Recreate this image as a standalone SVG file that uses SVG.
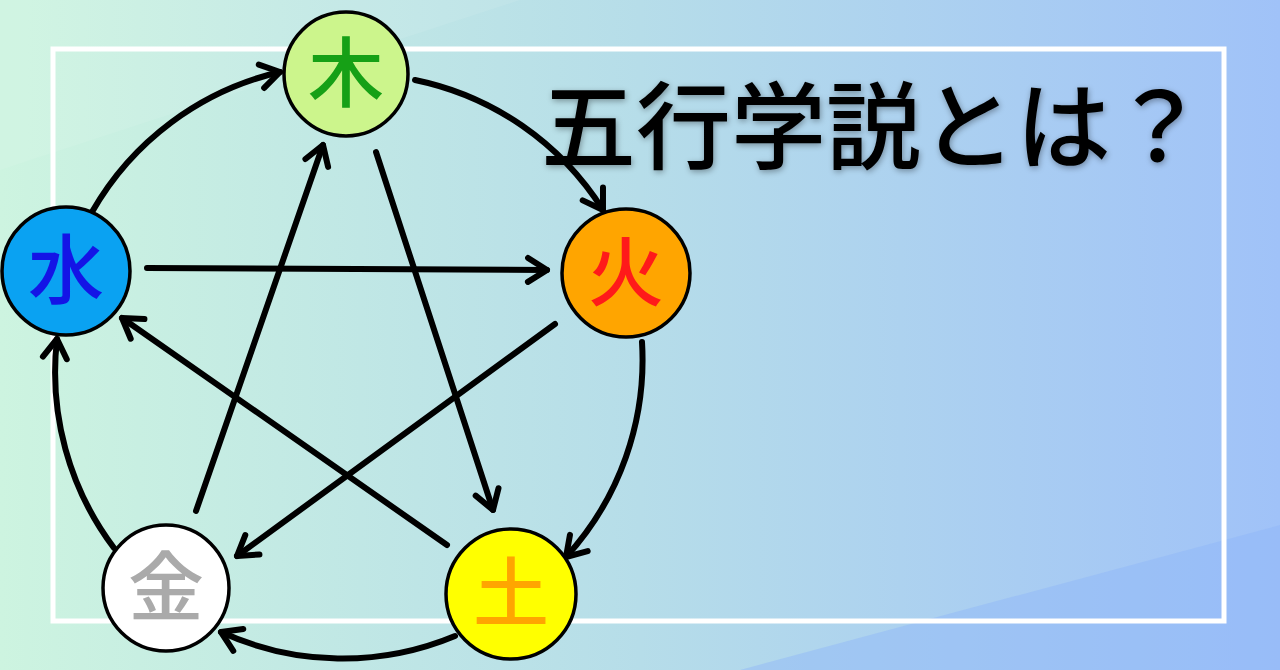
<svg xmlns="http://www.w3.org/2000/svg" width="1280" height="670" viewBox="0 0 1280 670">
  <defs>
    <linearGradient id="bg" x1="0" y1="0" x2="1" y2="0">
      <stop offset="0" stop-color="#cdf4e0"/>
      <stop offset="0.5" stop-color="#b6dde9"/>
      <stop offset="1" stop-color="#a0c2f8"/>
    </linearGradient>
    <marker id="arr" viewBox="-24 -16 30 32" markerWidth="30" markerHeight="32" refX="0" refY="0" orient="auto" markerUnits="userSpaceOnUse">
      <path d="M-19,-12 L0,0 L-19,12" fill="none" stroke="#000" stroke-width="6" stroke-linecap="round" stroke-linejoin="round"/>
    </marker>
    <filter id="glow" x="-10%" y="-20%" width="120%" height="140%">
      <feGaussianBlur in="SourceAlpha" stdDeviation="3"/>
      <feOffset dx="1" dy="2"/>
      <feComponentTransfer><feFuncA type="linear" slope="0.35"/></feComponentTransfer>
      <feMerge><feMergeNode/><feMergeNode in="SourceGraphic"/></feMerge>
    </filter>
  </defs>
  <style>
    .node circle { stroke: #000; stroke-width: 3.5; }
    .kanji { font-family: "Noto Sans CJK JP", "Noto Sans CJK SC", sans-serif; font-weight: 500; font-size: 76px; text-anchor: middle; }
    .conn path { fill: none; stroke: #000; stroke-width: 6; stroke-linecap: round; marker-end: url(#arr); }
  </style>
  <rect x="0" y="0" width="1280" height="670" fill="url(#bg)"/>
  <polygon points="0,0 520,0 0,170" fill="#ffffff" opacity="0.08"/>
  <polygon points="740,670 1280,525 1280,670" fill="#8fb5f8" opacity="0.45"/>
  <rect id="frame" x="53" y="49" width="1171" height="572" fill="none" stroke="#ffffff" stroke-width="5"/>

  <g id="connectors" class="conn">
    <path d="M92,212 A292,292 0 0 1 280,72"/>
    <path d="M415,80 A292,292 0 0 1 603,210"/>
    <path d="M642,342 A292,292 0 0 1 566,557"/>
    <path d="M455,636 A292,292 0 0 1 221,632"/>
    <path d="M114,548 A292,292 0 0 1 57,339"/>
    <path d="M376,152 L493,510"/>
    <path d="M447,545 L122,318"/>
    <path d="M147,268 L547,270"/>
    <path d="M555,324 L237,556"/>
    <path d="M196,511 L323,145"/>
  </g>

  <g id="node-wood" class="node">
    <circle cx="346" cy="74" r="62" fill="#ccf58c"/>
    <text class="kanji" x="346" y="101" fill="#16a016">木</text>
  </g>
  <g id="node-fire" class="node">
    <circle cx="626" cy="273" r="64" fill="#ffa500"/>
    <text class="kanji" x="626" y="300" fill="#ff1a1a">火</text>
  </g>
  <g id="node-earth" class="node">
    <circle cx="511" cy="594" r="65" fill="#ffff00"/>
    <text class="kanji" x="511" y="621" fill="#ffa500">土</text>
  </g>
  <g id="node-metal" class="node">
    <circle cx="166" cy="588" r="63" fill="#ffffff"/>
    <text class="kanji" x="166" y="615" fill="#aaaaaa">金</text>
  </g>
  <g id="node-water" class="node">
    <circle cx="66" cy="271" r="64" fill="#0aa2f2"/>
    <text class="kanji" x="66" y="298" fill="#1414e6">水</text>
  </g>

  <g id="title" filter="url(#glow)">
    <text x="541" y="162" font-family="Noto Sans CJK JP, Noto Sans CJK SC, sans-serif" font-size="95" font-weight="500" fill="#000">五行学説とは？</text>
  </g>
</svg>
